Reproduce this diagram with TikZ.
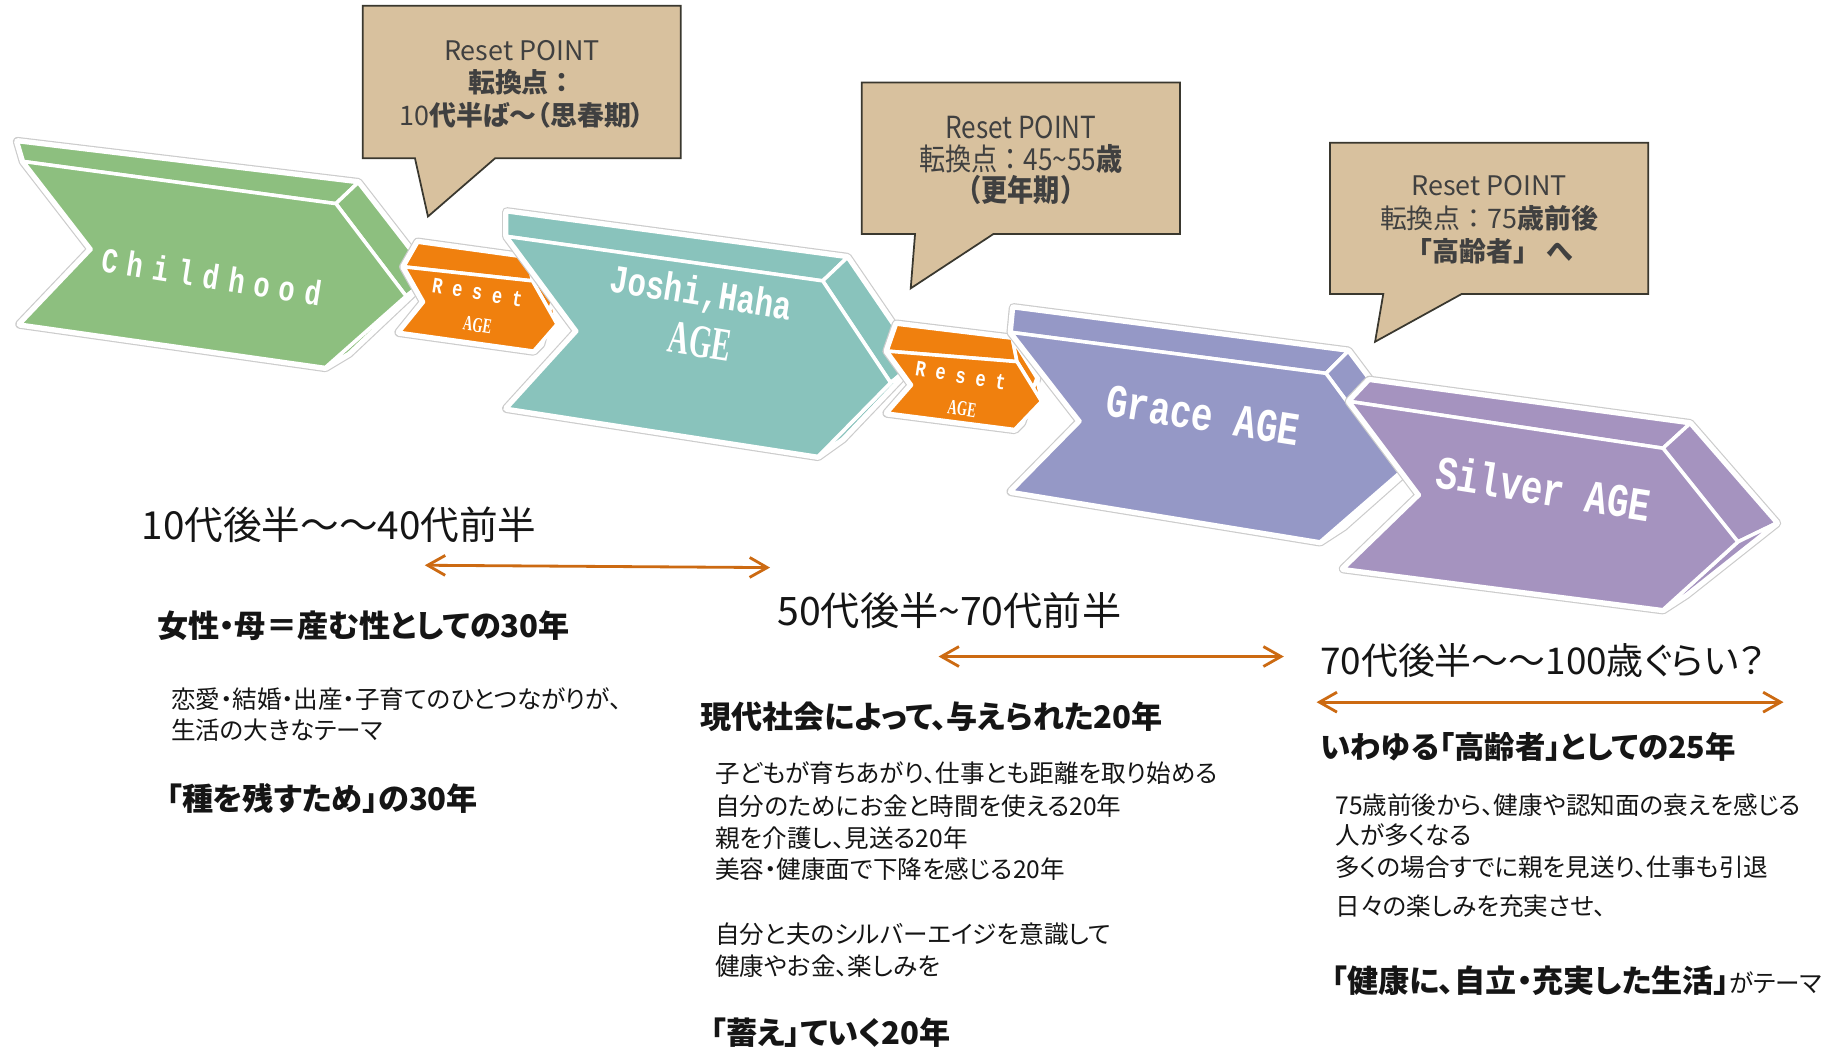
\documentclass[tikz,border=0pt]{standalone}
\usepackage{fontspec}
\usepackage{graphicx}
\setmainfont{Noto Sans CJK JP}[RawFeature=+palt]
\newfontfamily\jpfull{Noto Sans CJK JP}
\newfontfamily\agemono{Liberation Mono}
\newfontfamily\agemonowide{Liberation Mono}[LetterSpace=35]
\newfontfamily\agemonoreset{Liberation Mono}[LetterSpace=58]
\newfontfamily\agenarrow{Liberation Serif}
\usetikzlibrary{arrows.meta}
\definecolor{cgreen}{HTML}{8DBF7F}
\definecolor{cteal}{HTML}{89C3BC}
\definecolor{corange}{HTML}{F0800E}
\definecolor{cgrace}{HTML}{9598C6}
\definecolor{csilver}{HTML}{A593BF}
\definecolor{tanc}{HTML}{D8C19E}
\definecolor{calloutline}{HTML}{3A382F}
\definecolor{arrowc}{HTML}{CC6A12}
\definecolor{textc}{HTML}{151515}
\definecolor{calltextc}{HTML}{404040}
\newcommand\narrowed[2]{\scalebox{#1}[1]{#2}}
\tikzset{
  halo/.style={draw=black!20, line width=8pt, line join=round},
  halow/.style={draw=white, fill=white, line width=6pt, line join=round},
  face/.style={fill=#1, draw=white, line width=3pt, line join=round},
  agelbl/.style={text=white, inner sep=0pt, rotate=-9},
  callout/.style={fill=tanc, draw=calloutline, line width=1.5pt, line join=miter},
  span/.style={draw=arrowc, line width=2.4pt, {Straight Barb[length=15pt,width=17pt]}-{Straight Barb[length=15pt,width=17pt]}},
  rangetxt/.style={anchor=west, inner sep=0pt, font=\fontsize{33}{38}\selectfont, text=textc},
  headtxt/.style={anchor=west, inner sep=0pt, font=\fontsize{26.6}{31}\selectfont\bfseries, text=textc},
  bodytxt/.style={anchor=west, inner sep=0pt, font=\fontsize{21}{26}\selectfont, text=textc},
  calltxt/.style={align=center, inner sep=0pt, text=calltextc, font=\fontsize{23}{27.5}\selectfont},
}
\newcommand\drawchev[2]{%
  \path[halo] (#1-btl) -- (#1-btr) -- (#1-btip) -- (#1-bbr) -- (#1-fbr) -- (#1-fbl) -- (#1-fn) -- (#1-ftl) -- cycle;
  \path[halow] (#1-btl) -- (#1-btr) -- (#1-btip) -- (#1-bbr) -- (#1-fbr) -- (#1-fbl) -- (#1-fn) -- (#1-ftl) -- cycle;
  \path[face=#2] (#1-ftl) -- (#1-ftr) -- (#1-btr) -- (#1-btl) -- cycle;
  \path[face=#2] (#1-ftr) -- (#1-btr) -- (#1-btip) -- (#1-ftip) -- cycle;
  \path[face=#2] (#1-ftip) -- (#1-btip) -- (#1-bbr) -- (#1-fbr) -- cycle;
  \path[face=#2] (#1-ftl) -- (#1-ftr) -- (#1-ftip) -- (#1-fbr) -- (#1-fbl) -- (#1-fn) -- cycle;
}
\begin{document}
\begin{tikzpicture}[x=1pt,y=-1pt]
\useasboundingbox (0,0) rectangle (1568,896);
\fill[white] (0,0) rectangle (1568,896);

% ---- chevron geometry
\path (20,138) coordinate (g-ftl) (287,174) coordinate (g-ftr) (347,253) coordinate (g-ftip)
      (278,314) coordinate (g-fbr) (17,277) coordinate (g-fbl) (78,213) coordinate (g-fn)
      (15,121) coordinate (g-btl) (306,156) coordinate (g-btr) (368,236) coordinate (g-btip) (298,302) coordinate (g-bbr);
\path (345,228) coordinate (o-ftl) (455,240) coordinate (o-ftr) (476,277) coordinate (o-ftip)
      (456,300) coordinate (o-fbr) (341,284) coordinate (o-fbl) (362,258) coordinate (o-fn)
      (357,207) coordinate (o-btl) (451,220) coordinate (o-btr) (472,257) coordinate (o-btip) (462,294) coordinate (o-bbr);
\path (433,202) coordinate (t-ftl) (703,240) coordinate (t-ftr) (761,327) coordinate (t-ftip)
      (699,390) coordinate (t-fbr) (433,349) coordinate (t-fbl) (493,283) coordinate (t-fn)
      (433,181) coordinate (t-btl) (724,220) coordinate (t-btr) (784,308) coordinate (t-btip) (720,375) coordinate (t-bbr);
\path (758,300) coordinate (p-ftl) (869,309) coordinate (p-ftr) (890,343) coordinate (p-ftip)
      (867,367) coordinate (p-fbr) (758,353) coordinate (p-fbl) (779,329) coordinate (p-fn)
      (766,277) coordinate (p-btl) (865,289) coordinate (p-btr) (886,323) coordinate (p-btip) (873,361) coordinate (p-bbr);
\path (864,284) coordinate (r-ftl) (1133,319) coordinate (r-ftr) (1196,404) coordinate (r-ftip)
      (1128,463) coordinate (r-fbr) (864,420) coordinate (r-fbl) (923,360) coordinate (r-fn)
      (866,263) coordinate (r-btl) (1152,300) coordinate (r-btr) (1218,388) coordinate (r-btip) (1148,450) coordinate (r-bbr);
\path (1153,343) coordinate (s-ftl) (1421,383) coordinate (s-ftr) (1485,463) coordinate (s-ftip)
      (1421,521) coordinate (s-fbr) (1148,486) coordinate (s-fbl) (1213,423) coordinate (s-fn)
      (1170,325) coordinate (s-btl) (1444,362) coordinate (s-btr) (1518,447) coordinate (s-btip) (1441,508) coordinate (s-bbr);

\drawchev{g}{cgreen}
\drawchev{o}{corange}
\drawchev{t}{cteal}
\drawchev{p}{corange}
\drawchev{r}{cgrace}
\drawchev{s}{csilver}

% ---- chevron labels
\node[agelbl, font=\agemonowide\bfseries\fontsize{30}{30}\selectfont] (lchild) at (181,236) {\narrowed{0.77}{Childhood}};
\node[agelbl, font=\agemonoreset\bfseries\fontsize{19}{19}\selectfont] (lres1) at (408,250) {\narrowed{0.77}{Reset}};
\node[agelbl, font=\agenarrow\bfseries\fontsize{18}{18}\selectfont] (lage1) at (408,278) {\narrowed{0.62}{AGE}};
\node[agelbl, font=\agemono\bfseries\fontsize{34}{34}\selectfont] (ljoshi) at (599,252) {\narrowed{0.77}{Joshi,Haha}};
\node[agelbl, font=\agenarrow\bfseries\fontsize{40}{40}\selectfont] (ljage) at (598,292) {\narrowed{0.62}{AGE}};
\node[agelbl, font=\agemonoreset\bfseries\fontsize{19}{19}\selectfont] (lres2) at (821,321) {\narrowed{0.77}{Reset}};
\node[agelbl, font=\agenarrow\bfseries\fontsize{18}{18}\selectfont] (lage2) at (822,349) {\narrowed{0.62}{AGE}};
\node[agelbl, font=\agemono\bfseries\fontsize{40}{40}\selectfont] (lgrace) at (1028,355) {\narrowed{0.77}{Grace AGE}};
\node[agelbl, font=\agemono\bfseries\fontsize{40}{40}\selectfont] (lsilver) at (1319,417) {\narrowed{0.77}{Silver AGE}};

% ---- callouts
\path[callout] (310,5) -- (581.6,5) -- (581.6,135.3) -- (423,135.3) -- (365.7,185) -- (354.6,135.3) -- (310,135.3) -- cycle;
\node[calltxt] (c1) at (446,72) {Reset POINT\\{\jpfull\textbf{転換点：}}\\10\textbf{代半ば～（思春期）}};
\path[callout] (736.3,70.6) -- (1008.3,70.6) -- (1008.3,200) -- (848.8,200) -- (778.2,246.4) -- (781.9,200) -- (736.3,200) -- cycle;
\node[calltxt, font=\jpfull\fontsize{26}{27}\selectfont] (c2) at (872.3,137) {\narrowed{0.86}{Reset POINT}\\\narrowed{0.86}{転換点：45\textasciitilde55\textbf{歳}}\\\narrowed{0.86}{\textbf{（更年期）}}};
\path[callout] (1136.5,121.9) -- (1408.5,121.9) -- (1408.5,251.2) -- (1249,251.2) -- (1175,292) -- (1182,251.2) -- (1136.5,251.2) -- cycle;
\node[calltxt, font=\jpfull\fontsize{23}{28}\selectfont] (c3) at (1272.5,188) {Reset POINT\\転換点：75\textbf{歳前後}\\\textbf{「高齢者」 へ}};

% ---- spans
\coordinate (a1l) at (363,483); \coordinate (a1r) at (658,485);
\coordinate (a2l) at (802,561); \coordinate (a2r) at (1097,561);
\coordinate (a3l) at (1125,600); \coordinate (a3r) at (1524,600);
\draw[span] (a1l) -- (a1r);
\draw[span] (a2l) -- (a2r);
\draw[span] (a3l) -- (a3r);

% ---- left column
\node[rangetxt] (r1) at (121,448) {10代後半～～40代前半};
\node[headtxt] (h1) at (134,535) {女性・母＝産む性としての30年};
\node[bodytxt] (b11) at (146,597) {恋愛・結婚・出産・子育てのひとつながりが、};
\node[bodytxt] (b12) at (146,624) {生活の大きなテーマ};
\node[headtxt] (h12) at (142,682) {「種を残すため」の30年};

% ---- middle column
\node[rangetxt, font=\fontsize{33.5}{38}\selectfont] (r2) at (664,522) {50代後半\textasciitilde70代前半};
\node[headtxt] (h2) at (598,612) {現代社会によって、与えられた20年};
\node[bodytxt] (b21) at (611,661) {子どもが育ちあがり、仕事とも距離を取り始める};
\node[bodytxt] (b22) at (611,689) {自分のためにお金と時間を使える20年};
\node[bodytxt] (b23) at (611,716) {親を介護し、見送る20年};
\node[bodytxt] (b24) at (611,743) {美容・健康面で下降を感じる20年};
\node[bodytxt] (b25) at (611,798) {自分と夫のシルバーエイジを意識して};
\node[bodytxt] (b26) at (611,826) {健康やお金、楽しみを};
\node[headtxt] (h22) at (607,882) {「蓄え」ていく20年};

% ---- right column
\node[rangetxt, font=\fontsize{31.5}{36}\selectfont] (r3) at (1128,564) {70代後半～～100歳ぐらい？};
\node[headtxt, font=\fontsize{26}{31}\selectfont\bfseries] (h3) at (1128,638) {いわゆる「高齢者」としての25年};
\node[bodytxt] (b31) at (1141,688) {75歳前後から、健康や認知面の衰えを感じる};
\node[bodytxt] (b32) at (1141,714) {人が多くなる};
\node[bodytxt] (b33) at (1141,741) {多くの場合すでに親を見送り、仕事も引退};
\node[bodytxt] (b34) at (1141,774) {日々の楽しみを充実させ、};
\node[bodytxt] (h32) at (1138,838) {\fontsize{26.6}{31}\selectfont\bfseries「健康に、自立・充実した生活」\mdseries\fontsize{21}{26}\selectfont がテーマ};
\end{tikzpicture}
\end{document}
